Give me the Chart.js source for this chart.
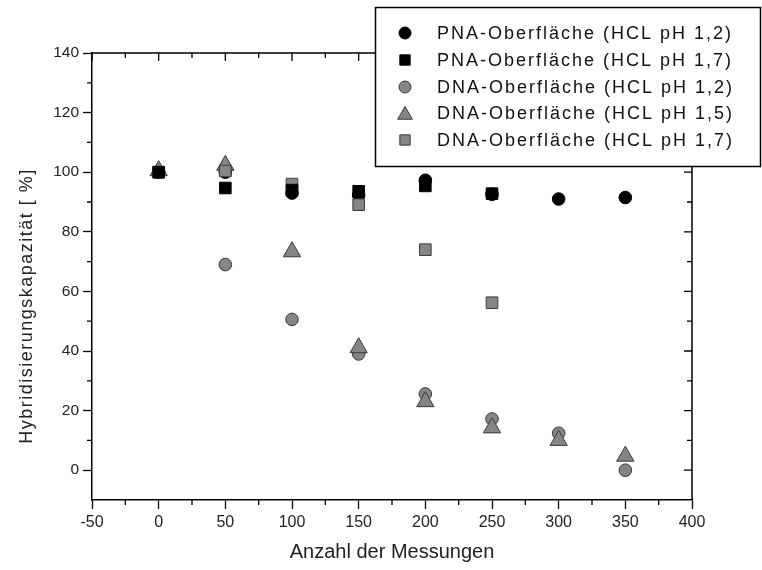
<!DOCTYPE html>
<html>
<head>
<meta charset="utf-8">
<script src="https://cdn.jsdelivr.net/npm/chart.js@4.4.1/dist/chart.umd.min.js"></script>
<style>
  html, body { margin: 0; padding: 0; background: #fff; }
  #wrap { width: 762px; height: 570px; position: relative; }
</style>
</head>
<body>
<div id="wrap"><canvas id="c"></canvas></div>
<script>
// ---- data ----
const measurements = [0, 50, 100, 150, 200, 250, 300, 350];
const pnaPH12 = [100, 100, 93, 92.3, 97.3, 92.6, 91, 91.5];
const pnaPH17 = [100, 94.7, 94, 93.6, 95.4, 92.8];
const dnaPH12 = [100, 69, 50.6, 39, 25.6, 17.2, 12.4, 0];
const dnaPH15 = [100.5, 102.3, 73.3, 41.1, 23, 14.2, 10, 4.7];
const dnaPH17 = [100, 100.4, 96, 89.1, 74, 56.2];

const seriesLabels = [
  'PNA-Oberfläche (HCL pH 1,2)',
  'PNA-Oberfläche (HCL pH 1,7)',
  'DNA-Oberfläche (HCL pH 1,2)',
  'DNA-Oberfläche (HCL pH 1,5)',
  'DNA-Oberfläche (HCL pH 1,7)'
];
const xTicks = [-50, 0, 50, 100, 150, 200, 250, 300, 350, 400];
const xMinor = [-25, 25, 75, 125, 175, 225, 275, 325, 375];
const yTicks = [0, 20, 40, 60, 80, 100, 120, 140];
const yMinor = [10, 30, 50, 70, 90, 110, 130];
const xTitle = 'Anzahl der Messungen';
const yTitle = 'Hybridisierungskapazität [ %]';

const FONT = "'Liberation Sans', Arial, Helvetica, sans-serif";
const GRAY = '#858585';
const GRAY_BORDER = '#3a3a3a';

function pts(values) {
  return values.map((v, i) => ({ x: measurements[i], y: v }));
}

const datasets = [
  { label: seriesLabels[0], data: pts(pnaPH12), pointStyle: 'circle', pointRadius: 6.3,
    backgroundColor: '#000', borderColor: '#000', borderWidth: 1, order: 5 },
  { label: seriesLabels[1], data: pts(pnaPH17), pointStyle: 'rect', pointRadius: 8.2,
    backgroundColor: '#000', borderColor: '#000', borderWidth: 1, order: 1 },
  { label: seriesLabels[2], data: pts(dnaPH12), pointStyle: 'circle', pointRadius: 6.3,
    backgroundColor: GRAY, borderColor: GRAY_BORDER, borderWidth: 1, order: 4 },
  { label: seriesLabels[3], data: pts(dnaPH15), pointStyle: 'triangle', pointRadius: 10,
    backgroundColor: GRAY, borderColor: GRAY_BORDER, borderWidth: 1, order: 3 },
  { label: seriesLabels[4], data: pts(dnaPH17), pointStyle: 'rect', pointRadius: 8.2,
    backgroundColor: GRAY, borderColor: GRAY_BORDER, borderWidth: 1, order: 2 }
];
datasets.forEach(d => { d.pointHoverRadius = d.pointRadius; d.showLine = false; });

// frame (top/right) + mirrored and minor ticks + y-axis title
const framePlugin = {
  id: 'frame',
  afterDraw(chart) {
    const { ctx, chartArea: a, scales: { x, y } } = chart;
    ctx.save();
    ctx.strokeStyle = '#000';
    ctx.lineWidth = 1.5;
    ctx.beginPath();
    ctx.moveTo(a.left, a.top); ctx.lineTo(a.right, a.top);
    ctx.moveTo(a.right, a.top); ctx.lineTo(a.right, a.bottom);
    ctx.stroke();
    ctx.lineWidth = 1.3;
    ctx.beginPath();
    xTicks.forEach(v => {
      const px = x.getPixelForValue(v);
      ctx.moveTo(px, a.top); ctx.lineTo(px, a.top + 8);
    });
    xMinor.forEach(v => {
      const px = x.getPixelForValue(v);
      ctx.moveTo(px, a.bottom); ctx.lineTo(px, a.bottom + 5);
      ctx.moveTo(px, a.top); ctx.lineTo(px, a.top + 5);
    });
    yTicks.forEach(v => {
      const py = y.getPixelForValue(v);
      ctx.moveTo(a.right, py); ctx.lineTo(a.right - 8, py);
    });
    yMinor.forEach(v => {
      const py = y.getPixelForValue(v);
      ctx.moveTo(a.left, py); ctx.lineTo(a.left - 5, py);
      ctx.moveTo(a.right, py); ctx.lineTo(a.right - 5, py);
    });
    ctx.stroke();

    // y-axis title (rotated, slightly below the plot centre as in the reference)
    ctx.translate(32, 306);
    ctx.rotate(-Math.PI / 2);
    ctx.fillStyle = '#222';
    ctx.font = '18px ' + FONT;
    ctx.textAlign = 'center';
    ctx.textBaseline = 'alphabetic';
    try { ctx.letterSpacing = '1.5px'; } catch (e) {}
    ctx.fillText(yTitle, 0, 0);
    try { ctx.letterSpacing = '0px'; } catch (e) {}
    ctx.restore();
  }
};

// boxed legend in the upper right
const legendPlugin = {
  id: 'boxLegend',
  afterDraw(chart) {
    const { ctx } = chart;
    const bx = 375.5, by = 7.5, bw = 385, bh = 159;
    ctx.save();
    ctx.fillStyle = '#fff';
    ctx.fillRect(bx, by, bw, bh);
    ctx.strokeStyle = '#000';
    ctx.lineWidth = 1.5;
    ctx.strokeRect(bx, by, bw, bh);
    const rows = [34, 61, 88, 114, 141];
    chart.data.datasets.forEach((ds, i) => {
      const cy = rows[i];
      const opts = {
        pointStyle: ds.pointStyle,
        radius: ds.pointStyle === 'triangle' ? 8.5 : (ds.pointStyle === 'rect' ? 7.3 : 6),
        rotation: 0,
        borderWidth: ds.borderWidth
      };
      ctx.fillStyle = ds.backgroundColor;
      ctx.strokeStyle = ds.borderColor;
      ctx.lineWidth = ds.borderWidth;
      Chart.helpers.drawPoint(ctx, opts, 405, ds.pointStyle === 'triangle' ? cy + 1 : cy - 1);
      ctx.fillStyle = '#111';
      ctx.font = '18px ' + FONT;
      ctx.textBaseline = 'middle';
      ctx.textAlign = 'left';
      try { ctx.letterSpacing = '2px'; } catch (e) {}
      ctx.fillText(ds.label, 437, cy);
      try { ctx.letterSpacing = '0px'; } catch (e) {}
    });
    ctx.restore();
  }
};

new Chart(document.getElementById('c'), {
  type: 'scatter',
  data: { datasets },
  plugins: [framePlugin, legendPlugin],
  options: {
    responsive: true,
    maintainAspectRatio: false,
    animation: false,
    layout: { padding: { top: 53, right: 70, left: 0, bottom: 0 } },
    plugins: { legend: { display: false }, tooltip: { enabled: false } },
    scales: {
      x: {
        type: 'linear', position: 'bottom', min: -50, max: 400,
        afterBuildTicks: s => { s.ticks = xTicks.map(v => ({ value: v })); },
        afterFit: s => { s.height = 70; },
        grid: { drawOnChartArea: false, drawTicks: true, tickLength: 9, color: '#000', tickWidth: 1.3 },
        border: { display: true, color: '#000', width: 1.5 },
        ticks: { font: { family: FONT, size: 16 }, color: '#222', padding: 4, maxRotation: 0, autoSkip: false },
        title: { display: true, text: xTitle, font: { family: FONT, size: 20 }, color: '#222',
                 padding: { top: 0, bottom: 6 } }
      },
      y: {
        type: 'linear', position: 'left', min: -10, max: 140,
        afterBuildTicks: s => { s.ticks = yTicks.map(v => ({ value: v })); },
        afterFit: s => { s.width = 92; },
        grid: { drawOnChartArea: false, drawTicks: true, tickLength: 9, color: '#000', tickWidth: 1.3 },
        border: { display: true, color: '#000', width: 1.5 },
        ticks: { font: { family: FONT, size: 15.5 }, color: '#222', padding: 4 },
        title: { display: false, text: yTitle }
      }
    }
  }
});
</script>
</body>
</html>
